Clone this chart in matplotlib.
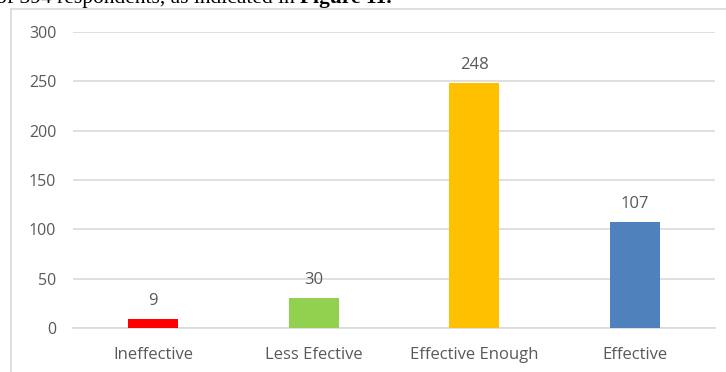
import matplotlib.pyplot as plt
from matplotlib.patches import Rectangle

categories = ["Ineffective", "Less Efective", "Effective Enough", "Effective"]
counts = [9, 30, 248, 107]
bar_colors = ["#FF0000", "#92D050", "#FFC000", "#4F81BD"]
yticks = [0, 50, 100, 150, 200, 250, 300]

plt.rcParams['font.family'] = ['Open Sans', 'DejaVu Sans']
text_color = "#595959"
grid_color = "#D9D9D9"

fig = plt.figure(figsize=(7.26, 3.72), dpi=100)
ax = fig.add_axes([73/726, 44/372, 642/726, 296/372])

x = range(len(categories))
bars = ax.bar(x, counts, width=0.31, color=bar_colors, zorder=3)

ax.set_xlim(-0.5, len(categories) - 0.5)
ax.set_ylim(0, 300)
ax.set_yticks(yticks)
ax.set_xticks(list(x))
ax.set_xticklabels(categories)
ax.grid(axis="y", color=grid_color, linewidth=1.2, zorder=0)
ax.tick_params(axis="both", length=0, colors=text_color)
ax.tick_params(axis="y", pad=12, labelsize=11.5)
ax.tick_params(axis="x", pad=13.5, labelsize=12)
for side in ["top", "right", "left"]:
    ax.spines[side].set_visible(False)
ax.spines["bottom"].set_color(grid_color)
ax.spines["bottom"].set_linewidth(1.2)

for b, v in zip(bars, counts):
    ax.annotate(str(v), (b.get_x() + b.get_width() / 2, v), xytext=(0, 7.5),
                textcoords="offset points", ha="center", va="bottom",
                fontsize=12, color=text_color)

# chart frame (clipped by the page edges)
fig.patches.append(Rectangle((11/726, -0.1), 1.0, 1.1 - 8.5/372,
                             transform=fig.transFigure, fill=False,
                             edgecolor=grid_color, linewidth=1.2))

# cut-off line of document text above the chart
base_y = 1 - 2.5/372
t1 = fig.text(-0.005, base_y, "of 394 respondents, as indicated in ",
              family="Liberation Serif", fontsize=15.5, va="baseline", color="black")
fig.canvas.draw()
bb = t1.get_window_extent()
fig.text(bb.x1 / fig.bbox.width, base_y, "Figure 11.",
         family="Liberation Serif", fontsize=15.5, fontweight="bold",
         va="baseline", color="black")

fig.savefig("out.png", dpi=100)
